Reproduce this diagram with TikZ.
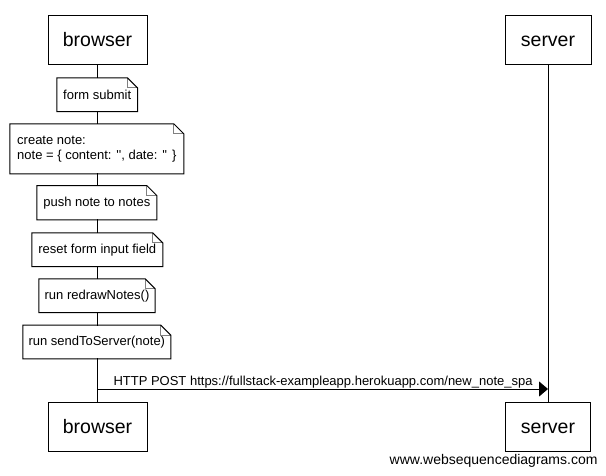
\documentclass[tikz,border=0pt]{standalone}
\usepackage{fontspec}
\setmainfont{Liberation Sans}[Ligatures=TeXOff]
\usetikzlibrary{arrows.meta}
\begin{document}
\begin{tikzpicture}[x=1pt,y=-1pt,line width=1pt,
  actor/.style={draw, fill=white, minimum width=99pt, minimum height=49pt, inner sep=0pt, text height=15pt, text depth=2pt, font=\fontsize{19.5}{22}\selectfont},
  notebox/.style={fill=white, inner sep=0pt, minimum height=32.7pt, font=\fontsize{13}{15}\selectfont},
  notefold/.style={draw=gray, line width=0.8pt},
  msg/.style={-{Triangle[length=9pt,width=15pt]}},
  mlabel/.style={font=\fontsize{13}{15}\selectfont, inner sep=0pt}]
\useasboundingbox (0,0) rectangle (606,475);
\fill[white] (0,0) rectangle (606,475);
% actors
\node[actor] (bt) at (97.5,39.5) {browser};
\node[actor, minimum width=86pt] (st) at (548,39.5) {server};
\node[actor] (bb) at (97.5,426.5) {browser};
\node[actor, minimum width=85pt] (sb) at (548,426.5) {server};
% lifelines
\draw (bt.south) -- (bb.north);
\draw (st.south) -- (sb.north);
% notes
\node[notebox, minimum width=79.7pt] (n1) at (97.2,94.7) {form submit};
\node[notebox, minimum width=173pt, minimum height=49pt, align=left] (n2) at (96.8,148.8) {create note:\\note = \{ content: '', date: '' \}};
\node[notebox, minimum width=119pt, minimum height=33.3pt] (n3) at (96.8,202.7) {push note to notes};
\node[notebox, minimum width=130pt] (n4) at (97.3,249.7) {reset form input field};
\node[notebox, minimum width=115.3pt] (n5) at (97,295.7) {run redrawNotes()};
\node[notebox, minimum width=147pt] (n6) at (96.8,342) {run sendToServer(note)};
\foreach \n in {n1,n2,n3,n4,n5,n6}{
  \draw[notefold] ([xshift=-10pt]\n.north east) -- ([xshift=-10pt,yshift=-10pt]\n.north east) -- ([yshift=-10pt]\n.north east);
  \draw (\n.north west) -- ([xshift=-10pt]\n.north east) -- ([yshift=-10pt]\n.north east) -- (\n.south east) -- (\n.south west) -- cycle;
}
% message
\coordinate (m1) at (bt.south |- 0,389);
\coordinate (m2) at (st.south |- 0,389);
\draw[msg] (m1) -- (m2) node[mlabel, pos=0, anchor=base west, xshift=15.5pt, yshift=4pt] {HTTP POST https://fullstack-exampleapp.herokuapp.com/new\_note\_spa};
% watermark
\node[font=\fontsize{14}{16}\selectfont, inner sep=0pt, anchor=east] (wm) at (598,460.5) {www.websequencediagrams.com};
\end{tikzpicture}
\end{document}
